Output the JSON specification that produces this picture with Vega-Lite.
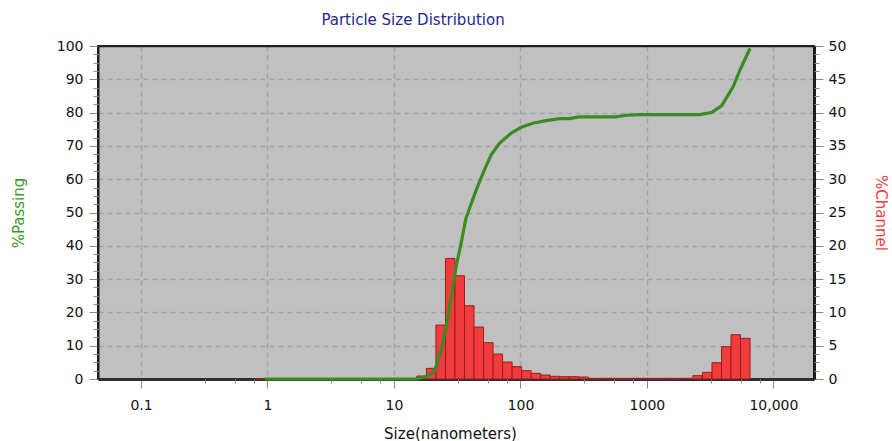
{
  "$schema": "https://vega.github.io/schema/vega-lite/v6.json",
  "width": 716,
  "height": 333,
  "autosize": "none",
  "padding": {"left": 98, "top": 46, "right": 78, "bottom": 62},
  "background": "white",
  "title": {"text": "Particle Size Distribution", "anchor": "middle", "dx": -43, "offset": 11, "fontSize": 15, "fontWeight": "normal", "font": "DejaVu Sans", "color": "#262692"},
  "config": {
    "view": {"fill": "#c0c0c0", "stroke": "#1e1e1e", "strokeWidth": 2},
    "axis": {"labelFont": "DejaVu Sans", "titleFont": "DejaVu Sans", "labelFontSize": 14, "titleFontSize": 15, "titleFontWeight": "normal", "labelColor": "#111111", "tickColor": "#8a8a8a", "tickWidth": 1, "gridColor": "#a3a3a3", "gridDash": [5, 4], "gridWidth": 1.5}
  },
  "datasets": {
    "channels": [
      {"lo": 0.80, "hi": 0.95, "ch": 0},
      {"lo": 0.95, "hi": 1.13, "ch": 0},
      {"lo": 1.13, "hi": 1.34, "ch": 0},
      {"lo": 1.34, "hi": 1.60, "ch": 0},
      {"lo": 1.60, "hi": 1.90, "ch": 0},
      {"lo": 1.90, "hi": 2.26, "ch": 0},
      {"lo": 2.26, "hi": 2.69, "ch": 0},
      {"lo": 2.69, "hi": 3.19, "ch": 0},
      {"lo": 3.19, "hi": 3.80, "ch": 0},
      {"lo": 3.80, "hi": 4.52, "ch": 0},
      {"lo": 4.52, "hi": 5.37, "ch": 0},
      {"lo": 5.37, "hi": 6.39, "ch": 0},
      {"lo": 6.39, "hi": 7.59, "ch": 0},
      {"lo": 7.59, "hi": 9.03, "ch": 0},
      {"lo": 9.03, "hi": 10.74, "ch": 0},
      {"lo": 10.74, "hi": 12.77, "ch": 0},
      {"lo": 12.77, "hi": 15.19, "ch": 0},
      {"lo": 15.19, "hi": 18.06, "ch": 0.45},
      {"lo": 18.06, "hi": 21.48, "ch": 1.6},
      {"lo": 21.48, "hi": 25.55, "ch": 8.1},
      {"lo": 25.55, "hi": 30.38, "ch": 18.1},
      {"lo": 30.38, "hi": 36.13, "ch": 15.5},
      {"lo": 36.13, "hi": 42.97, "ch": 11.0},
      {"lo": 42.97, "hi": 51.10, "ch": 7.8},
      {"lo": 51.10, "hi": 60.77, "ch": 5.45},
      {"lo": 60.77, "hi": 72.27, "ch": 3.75},
      {"lo": 72.27, "hi": 85.94, "ch": 2.55},
      {"lo": 85.94, "hi": 102.2, "ch": 1.85},
      {"lo": 102.2, "hi": 121.5, "ch": 1.25},
      {"lo": 121.5, "hi": 144.5, "ch": 0.85},
      {"lo": 144.5, "hi": 171.9, "ch": 0.6},
      {"lo": 171.9, "hi": 204.4, "ch": 0.4},
      {"lo": 204.4, "hi": 243.1, "ch": 0.35},
      {"lo": 243.1, "hi": 289.1, "ch": 0.35},
      {"lo": 289.1, "hi": 343.8, "ch": 0.3},
      {"lo": 343.8, "hi": 408.8, "ch": 0.1},
      {"lo": 408.8, "hi": 486.1, "ch": 0.1},
      {"lo": 486.1, "hi": 578.1, "ch": 0.1},
      {"lo": 578.1, "hi": 687.5, "ch": 0.1},
      {"lo": 687.5, "hi": 817.6, "ch": 0.1},
      {"lo": 817.6, "hi": 972.3, "ch": 0.1},
      {"lo": 972.3, "hi": 1156, "ch": 0.1},
      {"lo": 1156, "hi": 1375, "ch": 0.1},
      {"lo": 1375, "hi": 1635, "ch": 0.1},
      {"lo": 1635, "hi": 1944, "ch": 0.1},
      {"lo": 1944, "hi": 2312, "ch": 0.1},
      {"lo": 2312, "hi": 2750, "ch": 0.5},
      {"lo": 2750, "hi": 3270, "ch": 1.0},
      {"lo": 3270, "hi": 3889, "ch": 2.45},
      {"lo": 3889, "hi": 4625, "ch": 4.85},
      {"lo": 4625, "hi": 5500, "ch": 6.65},
      {"lo": 5500, "hi": 6541, "ch": 6.1}
    ],
    "passing": [
      {"size": 0.95, "pass": 0},
      {"size": 15.19, "pass": 0},
      {"size": 18.0, "pass": 0.7},
      {"size": 20.9, "pass": 2.2},
      {"size": 23.6, "pass": 8.7},
      {"size": 25.9, "pass": 15.7},
      {"size": 28.4, "pass": 24.7},
      {"size": 31.0, "pass": 33.7},
      {"size": 33.9, "pass": 40.7},
      {"size": 37.1, "pass": 48.3},
      {"size": 44.7, "pass": 56.8},
      {"size": 51.9, "pass": 62.8},
      {"size": 58.7, "pass": 67.3},
      {"size": 68.2, "pass": 70.8},
      {"size": 84.4, "pass": 73.8},
      {"size": 101.3, "pass": 75.6},
      {"size": 125, "pass": 76.8},
      {"size": 160, "pass": 77.6},
      {"size": 204, "pass": 78.2},
      {"size": 244, "pass": 78.2},
      {"size": 293, "pass": 78.7},
      {"size": 421, "pass": 78.7},
      {"size": 570, "pass": 78.7},
      {"size": 685, "pass": 79.2},
      {"size": 872, "pass": 79.4},
      {"size": 1417, "pass": 79.4},
      {"size": 2615, "pass": 79.4},
      {"size": 3240, "pass": 80.0},
      {"size": 3895, "pass": 82.0},
      {"size": 4815, "pass": 87.8},
      {"size": 5445, "pass": 92.8},
      {"size": 6541, "pass": 99.3}
    ]
  },
  "layer": [
    {
      "data": {"name": "channels"},
      "mark": {"type": "rect", "fill": "#f03c3c", "stroke": "#9e1c1c", "strokeWidth": 1},
      "encoding": {
        "x": {"field": "lo", "type": "quantitative", "scale": {"type": "log", "domain": [0.0457, 20950], "nice": false},
          "axis": {"orient": "bottom", "values": [0.1, 1, 10, 100, 1000, 10000], "labelExpr": "datum.value >= 10000 ? '10,000' : format(datum.value, '~g')", "title": "Size(nanometers)", "titleX": 352, "titleY": 54, "titleBaseline": "middle", "titleColor": "#111111", "tickSize": 9, "labelPadding": 10, "grid": true, "domainColor": "#303030", "domainWidth": 3}},
        "x2": {"field": "hi"},
        "y": {"field": "ch", "type": "quantitative", "scale": {"domain": [0, 50], "nice": false, "padding": 0},
          "axis": {"orient": "right", "values": [0, 5, 10, 15, 20, 25, 30, 35, 40, 45, 50], "title": "%Channel", "titleColor": "#f04040", "titleX": 66, "titleBaseline": "middle", "tickSize": 9, "labelPadding": 5, "grid": false, "domainColor": "#1e1e1e", "domainWidth": 3}},
        "y2": {"datum": 0}
      }
    },
    {
      "data": {"name": "channels"},
      "mark": {"type": "point", "opacity": 0},
      "encoding": {
        "x": {"field": "lo", "type": "quantitative", "scale": {"type": "log", "domain": [0.0457, 20950], "nice": false},
          "axis": {"orient": "bottom", "values": [0.32, 0.55, 0.78, 3.2, 5.5, 7.8, 32, 55, 78, 320, 550, 780, 3200, 5500, 7800], "labels": false, "tickSize": 4, "grid": false, "domain": false, "title": null}},
        "y": {"field": "ch", "type": "quantitative", "scale": {"domain": [0, 50], "nice": false},
          "axis": {"orient": "right", "values": [1.25, 2.5, 3.75, 6.25, 7.5, 8.75, 11.25, 12.5, 13.75, 16.25, 17.5, 18.75, 21.25, 22.5, 23.75, 26.25, 27.5, 28.75, 31.25, 32.5, 33.75, 36.25, 37.5, 38.75, 41.25, 42.5, 43.75, 46.25, 47.5, 48.75], "labels": false, "tickSize": 5, "grid": false, "domain": false, "title": null}}
      }
    },
    {
      "data": {"name": "passing"},
      "mark": {"type": "line", "color": "#3a8c22", "strokeWidth": 3.2},
      "encoding": {
        "x": {"field": "size", "type": "quantitative", "scale": {"type": "log", "domain": [0.0457, 20950], "nice": false}, "axis": null},
        "y": {"field": "pass", "type": "quantitative", "scale": {"domain": [0, 100], "nice": false},
          "axis": {"orient": "left", "values": [0, 10, 20, 30, 40, 50, 60, 70, 80, 90, 100], "title": "%Passing", "titleColor": "#3a9a1e", "titleX": -80, "titleBaseline": "middle", "tickSize": 9, "labelPadding": 6, "grid": true,
            "gridColor": {"condition": {"test": "datum.value >= 100 || datum.value <= 0", "value": "#1e1e1e"}, "value": "#a3a3a3"},
            "gridDash": {"condition": {"test": "datum.value >= 100 || datum.value <= 0", "value": []}, "value": [5, 4]},
            "domainColor": "#1e1e1e", "domainWidth": 2}}
      }
    },
    {
      "data": {"name": "passing"},
      "mark": {"type": "point", "opacity": 0},
      "encoding": {
        "x": {"field": "size", "type": "quantitative", "scale": {"type": "log", "domain": [0.0457, 20950], "nice": false}, "axis": null},
        "y": {"field": "pass", "type": "quantitative", "scale": {"domain": [0, 100], "nice": false},
          "axis": {"orient": "left", "values": [2.5, 5, 7.5, 12.5, 15, 17.5, 22.5, 25, 27.5, 32.5, 35, 37.5, 42.5, 45, 47.5, 52.5, 55, 57.5, 62.5, 65, 67.5, 72.5, 75, 77.5, 82.5, 85, 87.5, 92.5, 95, 97.5], "labels": false, "tickSize": 5, "grid": false, "domain": false, "title": null}}
      }
    }
  ],
  "resolve": {"scale": {"y": "independent"}, "axis": {"x": "independent", "y": "independent"}}
}
